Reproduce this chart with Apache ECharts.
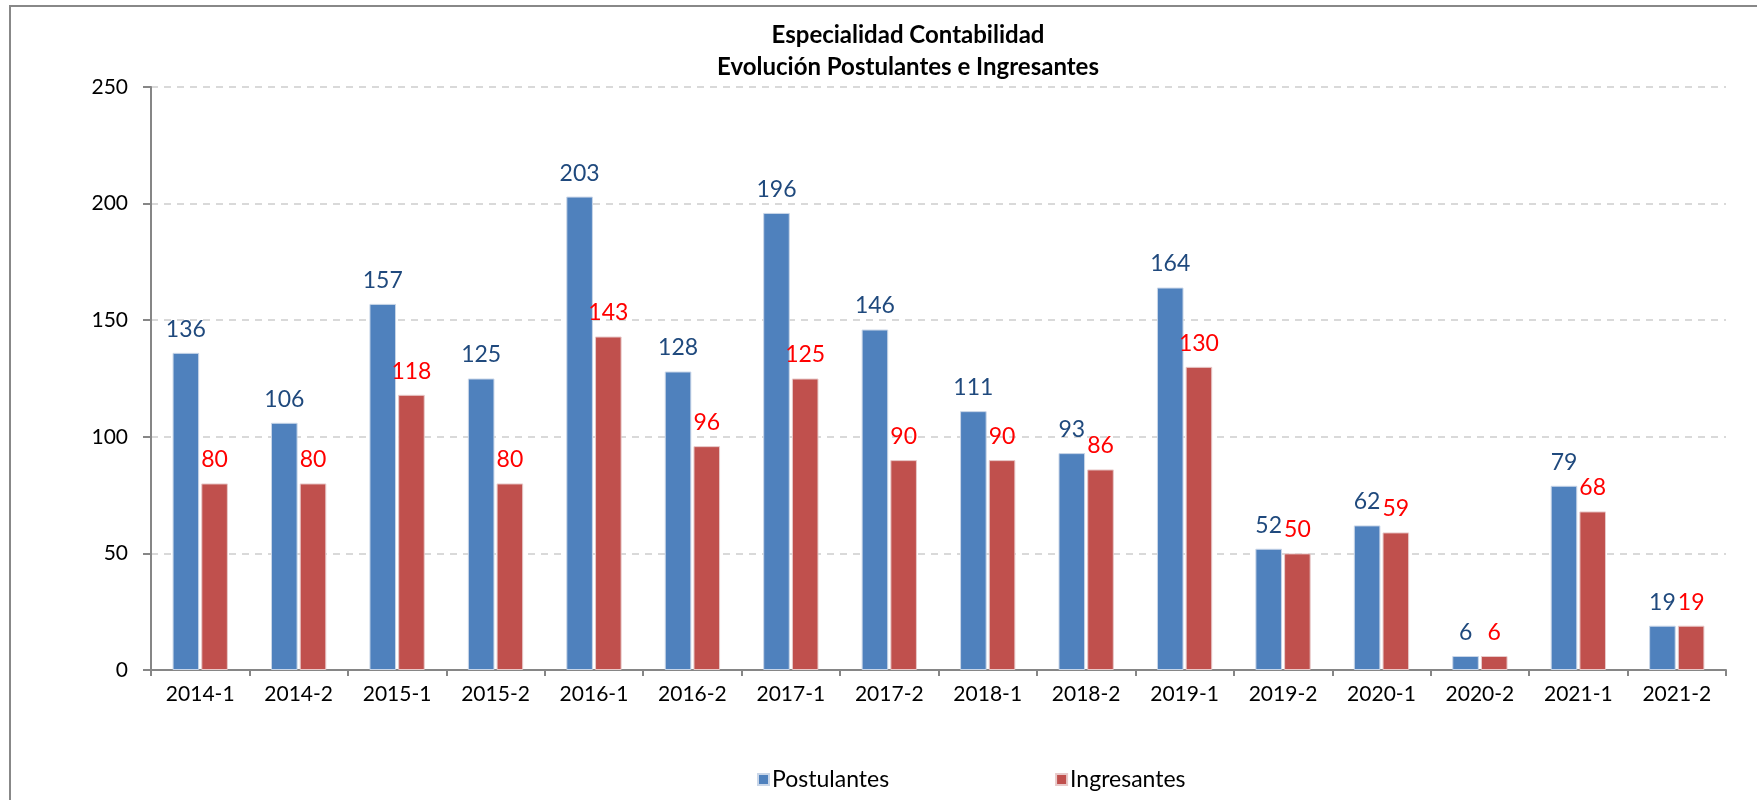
<!DOCTYPE html>
<html><head><meta charset="utf-8">
<script src="https://cdn.jsdelivr.net/npm/echarts@6/dist/echarts.min.js"></script>
<style>html,body{margin:0;padding:0;background:#fff}#c{width:1757px;height:800px}</style>
</head><body><div id="c"></div>
<script>
const categories = ['2014-1','2014-2','2015-1','2015-2','2016-1','2016-2','2017-1','2017-2','2018-1','2018-2','2019-1','2019-2','2020-1','2020-2','2021-1','2021-2'];
const postulantes = [136,106,157,125,203,128,196,146,111,93,164,52,62,6,79,19];
const ingresantes = [80,80,118,80,143,96,125,90,90,86,130,50,59,6,68,19];
const yTicks = {min:0, max:250, interval:50};

const chart = echarts.init(document.getElementById('c'));
const font = 'Lato, "Open Sans", sans-serif';
chart.setOption({
  animation:false,
  textStyle:{fontFamily:font},
  graphic:[{type:'rect',shape:{x:10,y:6,width:1800,height:900},style:{fill:'none',stroke:'#888',lineWidth:2},silent:true,z:-1}],
  title:{
    text:'Especialidad Contabilidad\nEvolución Postulantes e Ingresantes',
    left:903, top:14, textAlign:'center',
    textStyle:{fontFamily:font,fontWeight:'bold',fontSize:24,lineHeight:32,color:'#000'}
  },
  legend:{
    left:752, top:763, itemWidth:11, itemHeight:11, itemGap:166,
    icon:'rect',
    textStyle:{fontFamily:font,fontSize:23,color:'#000',padding:[0,0,0,-2]},
    data:['Postulantes','Ingresantes']
  },
  grid:{left:151, top:87, right:31, bottom:130, containLabel:false},
  xAxis:{
    type:'category', data:categories,
    axisLine:{lineStyle:{color:'#868686',width:2}},
    axisTick:{show:true,length:6,alignWithLabel:false,lineStyle:{color:'#868686',width:2}},
    axisLabel:{fontFamily:font,fontSize:21,color:'#000',margin:14}
  },
  yAxis:{
    type:'value', min:yTicks.min, max:yTicks.max, interval:yTicks.interval,
    axisLine:{show:true,lineStyle:{color:'#868686',width:2}},
    axisTick:{show:true,length:8,lineStyle:{color:'#868686',width:2}},
    axisLabel:{fontFamily:font,fontSize:21,color:'#000',margin:23},
    splitLine:{lineStyle:{color:'#D9D9D9',type:[7,6],width:2}}
  },
  series:[
    {name:'Postulantes',type:'bar',data:postulantes,barWidth:'27%',barGap:'8%',
     itemStyle:{color:'#4F81BD',borderColor:'#C9D6E8',borderWidth:1},
     label:{show:true,position:'top',distance:12,fontFamily:font,fontSize:23,color:'#1F497D'}},
    {name:'Ingresantes',type:'bar',data:ingresantes,barWidth:'27%',
     itemStyle:{color:'#C0504D',borderColor:'#E8CACA',borderWidth:1},
     label:{show:true,position:'top',distance:12,fontFamily:font,fontSize:23,color:'#FF0000'}}
  ]
});
</script></body></html>
